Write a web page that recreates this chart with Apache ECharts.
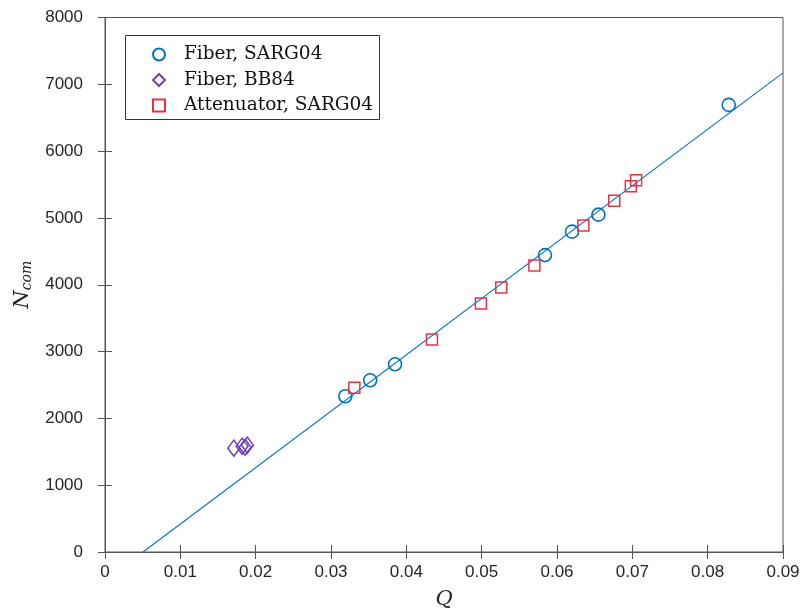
<!DOCTYPE html>
<html>
<head>
<meta charset="utf-8">
<script src="https://cdn.jsdelivr.net/npm/echarts@6/dist/echarts.min.js"></script>
<style>html,body{margin:0;padding:0;background:#fff;}#c{width:803px;height:615px;}</style>
</head>
<body>
<div id="c"></div>
<script>
// Fiber, SARG04
const fiberQ = [0.0319, 0.0352, 0.0385, 0.0584, 0.0620, 0.0655, 0.0828];
const fiberN = [2331, 2570, 2809, 4444, 4795, 5049, 6692];
// Fiber, BB84
const bb84Q = [0.0171, 0.0182, 0.0186, 0.0189];
const bb84N = [1554, 1583, 1569, 1598];
// Attenuator, SARG04
const attQ = [0.0331, 0.0434, 0.0499, 0.0526, 0.0570, 0.0635, 0.0676, 0.0698, 0.0705];
const attN = [2457, 3182, 3720, 3959, 4287, 4885, 5258, 5475, 5565];
// Linear fit line endpoints
const fitQ = [0.00504, 0.09];
const fitN = [0, 7171];

const seriesNames = ['Fiber, SARG04', 'Fiber, BB84', 'Attenuator, SARG04'];
const zip = (a, b) => a.map((v, i) => [v, b[i]]);

const blue = '#0072BD', purple = '#6F3FBF', red = '#E8333F';
const axisCol = '#555555';
const tickFont = {fontFamily: '"Liberation Sans", Arial, sans-serif', fontSize: 17, color: '#262626'};

const chart = echarts.init(document.getElementById('c'), null, {renderer: 'canvas'});
chart.setOption({
  animation: false,
  backgroundColor: '#fff',
  grid: {left: 105, right: 20, top: 17.5, bottom: 62, show: true, borderColor: axisCol, borderWidth: 1, backgroundColor: 'transparent'},
  graphic: [{
    type: 'rect', left: 125, top: 35, shape: {width: 254, height: 84},
    style: {fill: '#fff', stroke: '#333', lineWidth: 1}, z: 90
  }],
  legend: {
    orient: 'vertical', left: 152, top: 45, padding: 0, z: 100,
    itemWidth: 12, itemHeight: 12, itemGap: 6.5,
    data: seriesNames,
    textStyle: {fontFamily: '"DejaVu Serif", serif', fontSize: 18.5, color: '#111', lineHeight: 18, padding: [0, 0, 0, 14]}
  },
  xAxis: [{
    type: 'value', min: 0, max: 0.09, interval: 0.01,
    name: 'Q', nameLocation: 'middle', nameGap: 37,
    nameTextStyle: {fontFamily: '"DejaVu Serif", serif', fontStyle: 'italic', fontSize: 21, color: '#262626'},
    axisLine: {show: true, lineStyle: {color: axisCol}},
    axisTick: {show: true, inside: true, length: 7, lineStyle: {color: axisCol}},
    axisLabel: Object.assign({margin: 12, formatter: v => (Math.round(v * 100) / 100).toString()}, tickFont),
    splitLine: {show: false}
  }, {
    type: 'value', position: 'top', min: 0, max: 0.09, interval: 0.01,
    axisLine: {show: true, lineStyle: {color: axisCol}},
    axisTick: {show: true, inside: true, length: 7, lineStyle: {color: axisCol}},
    axisLabel: {show: false}, splitLine: {show: false}
  }],
  yAxis: [{
    type: 'value', min: 0, max: 8000, interval: 1000,
    name: '{n|N}{s|com}', nameLocation: 'middle', nameGap: 68, nameRotate: 90,
    nameTextStyle: {
      rich: {
        n: {fontFamily: '"DejaVu Serif", serif', fontStyle: 'italic', fontSize: 21, color: '#262626', lineHeight: 24},
        s: {fontFamily: '"DejaVu Serif", serif', fontStyle: 'italic', fontSize: 14, color: '#262626', lineHeight: 12, verticalAlign: 'bottom'}
      }
    },
    axisLine: {show: true, lineStyle: {color: axisCol}},
    axisTick: {show: true, inside: true, length: 7, lineStyle: {color: axisCol}},
    axisLabel: Object.assign({margin: 22, formatter: v => String(v)}, tickFont),
    splitLine: {show: false}
  }, {
    type: 'value', position: 'right', min: 0, max: 8000, interval: 1000,
    axisLine: {show: true, lineStyle: {color: axisCol}},
    axisTick: {show: true, inside: true, length: 7, lineStyle: {color: axisCol}},
    axisLabel: {show: false}, splitLine: {show: false}
  }],
  series: [{
    name: 'fit', type: 'line', data: zip(fitQ, fitN), symbol: 'none',
    lineStyle: {color: blue, width: 1.1}, silent: true, z: 1
  }, {
    name: seriesNames[0], type: 'scatter', data: zip(fiberQ, fiberN),
    symbol: 'circle', symbolSize: 13,
    itemStyle: {color: 'transparent', borderColor: blue, borderWidth: 1.6, opacity: 1}, z: 3
  }, {
    name: seriesNames[1], type: 'scatter', data: zip(bb84Q, bb84N),
    symbol: 'diamond', symbolSize: [12, 16],
    itemStyle: {color: 'transparent', borderColor: purple, borderWidth: 1.5, opacity: 1}, z: 3
  }, {
    name: seriesNames[2], type: 'scatter', data: zip(attQ, attN),
    symbol: 'rect', symbolSize: 11,
    itemStyle: {color: 'transparent', borderColor: red, borderWidth: 1.5, opacity: 1}, z: 3
  }]
});
</script>
</body>
</html>
